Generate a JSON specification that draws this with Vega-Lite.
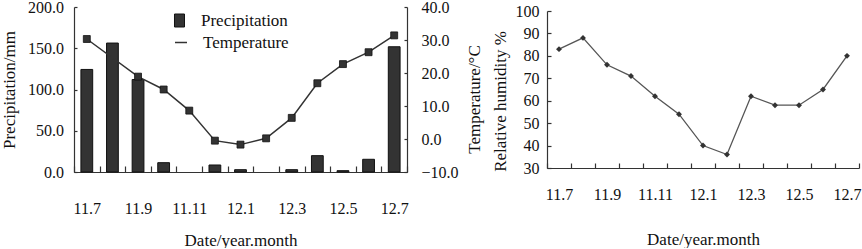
{
  "$schema": "https://vega.github.io/schema/vega-lite/v6.json",
  "padding": {"left": 0, "top": -1, "right": 2, "bottom": 0},
  "bounds": "flush",
  "center": true,
  "spacing": 140,
  "config": {
    "font": "Liberation Serif",
    "view": {"stroke": null},
    "axis": {
      "labelFont": "Liberation Serif",
      "titleFont": "Liberation Serif",
      "labelFontSize": 16,
      "titleFontSize": 17,
      "titleFontWeight": "normal",
      "labelColor": "#111",
      "titleColor": "#111",
      "domainColor": "#333",
      "tickColor": "#333",
      "domainWidth": 1.2,
      "tickWidth": 1.2,
      "grid": false
    },
    "legend": {
      "labelFont": "Liberation Serif",
      "labelFontSize": 17,
      "labelColor": "#111",
      "padding": 0
    }
  },
  "datasets": {
    "d": [
      {"m": "11.7", "p": 124.3, "t": 30.3, "h": 83},
      {"m": "11.8", "p": 156.3, "t": null, "h": 88},
      {"m": "11.9", "p": 112.1, "t": 18.9, "h": 76},
      {"m": "11.10", "p": 11.3, "t": 15.0, "h": 71},
      {"m": "11.11", "p": null, "t": 8.6, "h": 62},
      {"m": "11.12", "p": 8.5, "t": -0.5, "h": 54},
      {"m": "12.1", "p": 2.8, "t": -1.7, "h": 40},
      {"m": "12.2", "p": null, "t": 0.2, "h": 36},
      {"m": "12.3", "p": 2.8, "t": 6.4, "h": 62},
      {"m": "12.4", "p": 19.8, "t": 16.9, "h": 58},
      {"m": "12.5", "p": 1.6, "t": 22.7, "h": 58},
      {"m": "12.6", "p": 15.4, "t": 26.3, "h": 65},
      {"m": "12.7", "p": 151.8, "t": 31.4, "h": 80}
    ]
  },
  "hconcat": [
    {
      "width": 333,
      "height": 165,
      "data": {"name": "d"},
      "layer": [
        {
          "mark": {"type": "bar", "width": {"band": 0.46}, "stroke": "#111", "strokeWidth": 1},
          "encoding": {
            "x": {
              "field": "m", "type": "ordinal",
              "scale": {"domain": ["11.7","11.8","11.9","11.10","11.11","11.12","12.1","12.2","12.3","12.4","12.5","12.6","12.7"], "paddingInner": 0, "paddingOuter": 0},
              "axis": {
                "title": "Date/year.month",
                "tickBand": "extent",
                "tickSize": -6,
                "labelAngle": 0,
                "labelOverlap": false,
                "labelPadding": 34,
                "titlePadding": 16,
                "labelExpr": "indexof(['11.7','11.9','11.11','12.1','12.3','12.5','12.7'], datum.label) >= 0 ? datum.label : ''"
              }
            },
            "y": {
              "field": "p", "type": "quantitative",
              "scale": {"domain": [0, 200], "nice": false},
              "axis": {
                "title": "Precipitation/mm",
                "values": [0, 50, 100, 150, 200],
                "format": ".1f",
                "tickSize": -3,
                "labelPadding": 13.5,
                "titlePadding": 9
              }
            },
            "color": {
              "datum": "Precipitation", "type": "nominal",
              "scale": {"domain": ["Precipitation"], "range": ["#333333"]},
              "legend": {
                "orient": "none",
                "legendX": 97,
                "legendY": 5,
                "title": null,
                "symbolType": "M-0.77,-1H0.77V1H-0.77Z",
                "symbolSize": 169,
                "symbolStrokeWidth": 1,
                "symbolStrokeColor": "#111",
                "labelOffset": 13
              }
            }
          }
        },
        {
          "transform": [{"filter": "isValid(datum.t)"}],
          "mark": {
            "type": "line",
            "strokeWidth": 1.5,
            "point": {"shape": "square", "size": 48, "filled": true, "fill": "#333333", "stroke": "#111", "strokeWidth": 0.8}
          },
          "encoding": {
            "x": {"field": "m", "type": "ordinal"},
            "y": {
              "field": "t", "type": "quantitative",
              "scale": {"domain": [-10, 40], "nice": false},
              "axis": {
                "orient": "right",
                "title": "Temperature/°C",
                "titleAngle": 270,
                "titleY": 92,
                "values": [-10, 0, 10, 20, 30, 40],
                "format": ".1f",
                "tickSize": -3,
                "labelPadding": 17,
                "titlePadding": 25
              }
            },
            "color": {
              "datum": "Temperature", "type": "nominal",
              "scale": {"domain": ["Temperature"], "range": ["#333333"]},
              "legend": {
                "orient": "none",
                "legendX": 98.5,
                "legendY": 27,
                "title": null,
                "symbolType": "stroke",
                "symbolSize": 144,
                "symbolStrokeWidth": 1.5,
                "labelOffset": 13.5
              }
            }
          }
        }
      ],
      "resolve": {
        "scale": {"y": "independent", "color": "independent"},
        "legend": {"color": "independent"}
      }
    },
    {
      "width": 312,
      "height": 157,
      "data": {"name": "d"},
      "mark": {
        "type": "line",
        "color": "#555555",
        "strokeWidth": 1.3,
        "point": {"shape": "diamond", "size": 35, "filled": true, "color": "#333333"}
      },
      "encoding": {
        "x": {
          "field": "m", "type": "ordinal",
          "scale": {"domain": ["11.7","11.8","11.9","11.10","11.11","11.12","12.1","12.2","12.3","12.4","12.5","12.6","12.7"], "paddingInner": 0, "paddingOuter": 0},
          "axis": {
            "title": "Date/year.month",
            "tickBand": "extent",
            "tickSize": -5,
            "labelAngle": 0,
            "labelOverlap": false,
            "labelPadding": 23,
            "titlePadding": 29,
            "labelExpr": "indexof(['11.7','11.9','11.11','12.1','12.3','12.5','12.7'], datum.label) >= 0 ? datum.label : ''"
          }
        },
        "y": {
          "field": "h", "type": "quantitative",
          "scale": {"domain": [30, 100], "nice": false},
          "axis": {
            "title": "Relative humidity %",
            "titleY": 90,
            "values": [30, 40, 50, 60, 70, 80, 90, 100],
            "tickSize": -4,
            "labelPadding": 12,
            "titlePadding": 6
          }
        }
      }
    }
  ]
}
